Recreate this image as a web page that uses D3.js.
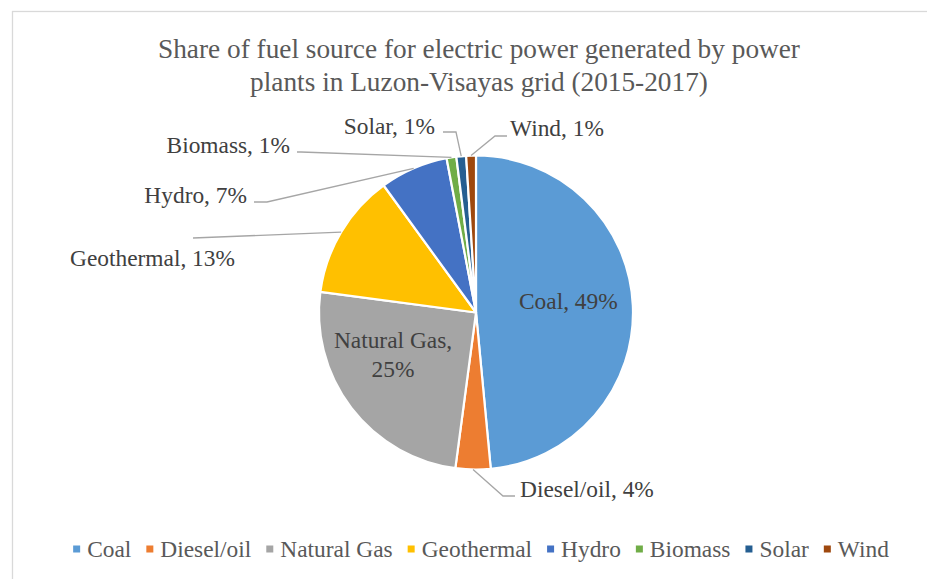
<!DOCTYPE html>
<html>
<head>
<meta charset="utf-8">
<script src="https://cdn.jsdelivr.net/npm/d3@7"></script>
<style>
  html, body { margin: 0; padding: 0; background: #fff; }
  svg { display: block; }
</style>
</head>
<body>
<svg id="chart" width="927" height="579"></svg>
<script>
// ---- data ----
const categories = ["Coal", "Diesel/oil", "Natural Gas", "Geothermal", "Hydro", "Biomass", "Solar", "Wind"];
const shares = [48.5, 3.6, 25.0, 12.9, 7.0, 1.0, 1.0, 1.0];
const colors = ["#5B9BD5", "#ED7D31", "#A5A5A5", "#FFC000", "#4472C4", "#70AD47", "#255E91", "#9E480E"];
const titleLines = ["Share of fuel source for electric power generated by power", "plants in Luzon-Visayas grid (2015-2017)"];

// ---- font detection (pick first installed serif face) ----
function pickFont(cands) {
  const c = document.createElement("canvas").getContext("2d");
  const s = "mmmmmmmmmmlliWWQ@#1234";
  const base = ["monospace", "sans-serif", "serif"].map(b => { c.font = `60px ${b}`; return c.measureText(s).width; });
  for (const f of cands) {
    const ok = ["monospace", "sans-serif", "serif"].some((b, i) => {
      c.font = `60px '${f}', ${b}`;
      return Math.abs(c.measureText(s).width - base[i]) > 0.5;
    });
    if (ok) return f;
  }
  return null;
}
const serifFace = pickFont(["Liberation Serif", "Tinos", "Times New Roman", "DejaVu Serif", "Noto Serif", "FreeSerif", "Noto Serif CJK SC", "Noto Serif CJK JP"]);
const FONT = serifFace ? `'${serifFace}', serif` : "'Liberation Serif', serif";

// ---- layout ----
const cx = 476, cy = 312.5, R = 157;
const labelFont = 23.4, titleFont = 27.3;

// label placement (layout only)
const labelLayout = {
  "Coal":        { x: 519, y: 309, anchor: "start" },
  "Natural Gas": { x: 393, y: 348, anchor: "middle", split: true },
  "Diesel/oil":  { x: 520, y: 497, anchor: "start", line: [[515, 496], [503, 496]] },
  "Geothermal":  { x: 235, y: 266, anchor: "end", line: [[193, 238]] },
  "Hydro":       { x: 247, y: 203, anchor: "end", line: [[254, 202], [267, 202]] },
  "Biomass":     { x: 290, y: 153, anchor: "end", line: [[297, 152], [301, 152]] },
  "Solar":       { x: 435, y: 134, anchor: "end", line: [[443, 132], [456, 132]] },
  "Wind":        { x: 510, y: 136, anchor: "start", line: [[507, 136], [495, 136]] }
};

const svg = d3.select("#chart").attr("font-family", FONT);

// chart border
svg.append("rect")
  .attr("x", 12.5).attr("y", 11.5)
  .attr("width", 960).attr("height", 620)
  .attr("fill", "#fff").attr("stroke", "#D9D9D9").attr("stroke-width", 1.3);

// title
svg.append("g").selectAll("text")
  .data(titleLines).join("text")
  .attr("x", 479).attr("y", (d, i) => 58 + i * 33)
  .attr("text-anchor", "middle")
  .attr("font-size", titleFont)
  .attr("fill", "#595959")
  .text(d => d);

const data = categories.map((c, i) => ({ name: c, value: shares[i] }));
const color = d3.scaleOrdinal().domain(categories).range(colors);

const pie = d3.pie().value(d => d.value).sort(null).startAngle(0).endAngle(2 * Math.PI);
const arcs = pie(data);
const arc = d3.arc().innerRadius(0).outerRadius(R);
const outerArc = d3.arc().innerRadius(R).outerRadius(R);

const g = svg.append("g").attr("transform", `translate(${cx},${cy})`);
g.selectAll("path")
  .data(arcs).join("path")
  .attr("d", arc)
  .attr("fill", d => color(d.data.name))
  .attr("stroke", "#fff")
  .attr("stroke-width", 2.2)
  .attr("stroke-linejoin", "round");

// labels & leader lines
const fmt = d => `${d.data.name}, ${Math.round(d.data.value)}%`;
const labels = svg.append("g");
arcs.forEach(d => {
  const L = labelLayout[d.data.name];
  if (L.line) {
    const end = outerArc.centroid(d);
    const pts = L.line.concat([[end[0] + cx, end[1] + cy]]);
    labels.append("path")
      .attr("d", d3.line()(pts))
      .attr("fill", "none")
      .attr("stroke", "#A6A6A6")
      .attr("stroke-width", 1.3);
  }
  if (L.split) {
    const t = labels.append("text")
      .attr("x", L.x).attr("y", L.y)
      .attr("text-anchor", L.anchor)
      .attr("font-size", labelFont).attr("fill", "#404040");
    t.append("tspan").attr("x", L.x).text(`${d.data.name},`);
    t.append("tspan").attr("x", L.x).attr("dy", 29).text(`${Math.round(d.data.value)}%`);
  } else {
    labels.append("text")
      .attr("x", L.x).attr("y", L.y)
      .attr("text-anchor", L.anchor)
      .attr("font-size", labelFont).attr("fill", "#404040")
      .text(fmt(d));
  }
});

// legend
const legend = svg.append("g");
const items = legend.selectAll("g").data(categories).join("g");
const sq = 7, gapMarker = 7, gapItem = 15;
items.append("rect")
  .attr("width", sq).attr("height", sq)
  .attr("y", -sq / 2)
  .attr("fill", d => color(d));
items.append("text")
  .attr("x", sq + gapMarker).attr("y", 8)
  .attr("font-size", labelFont).attr("fill", "#595959")
  .text(d => d);
let offs = [], xx = 0;
items.each(function () {
  offs.push(xx);
  const w = d3.select(this).select("text").node().getComputedTextLength();
  xx += sq + gapMarker + w + gapItem;
});
const total = xx - gapItem;
const lx0 = 481 - total / 2;
items.attr("transform", (d, i) => `translate(${lx0 + offs[i]},549)`);
</script>
</body>
</html>
